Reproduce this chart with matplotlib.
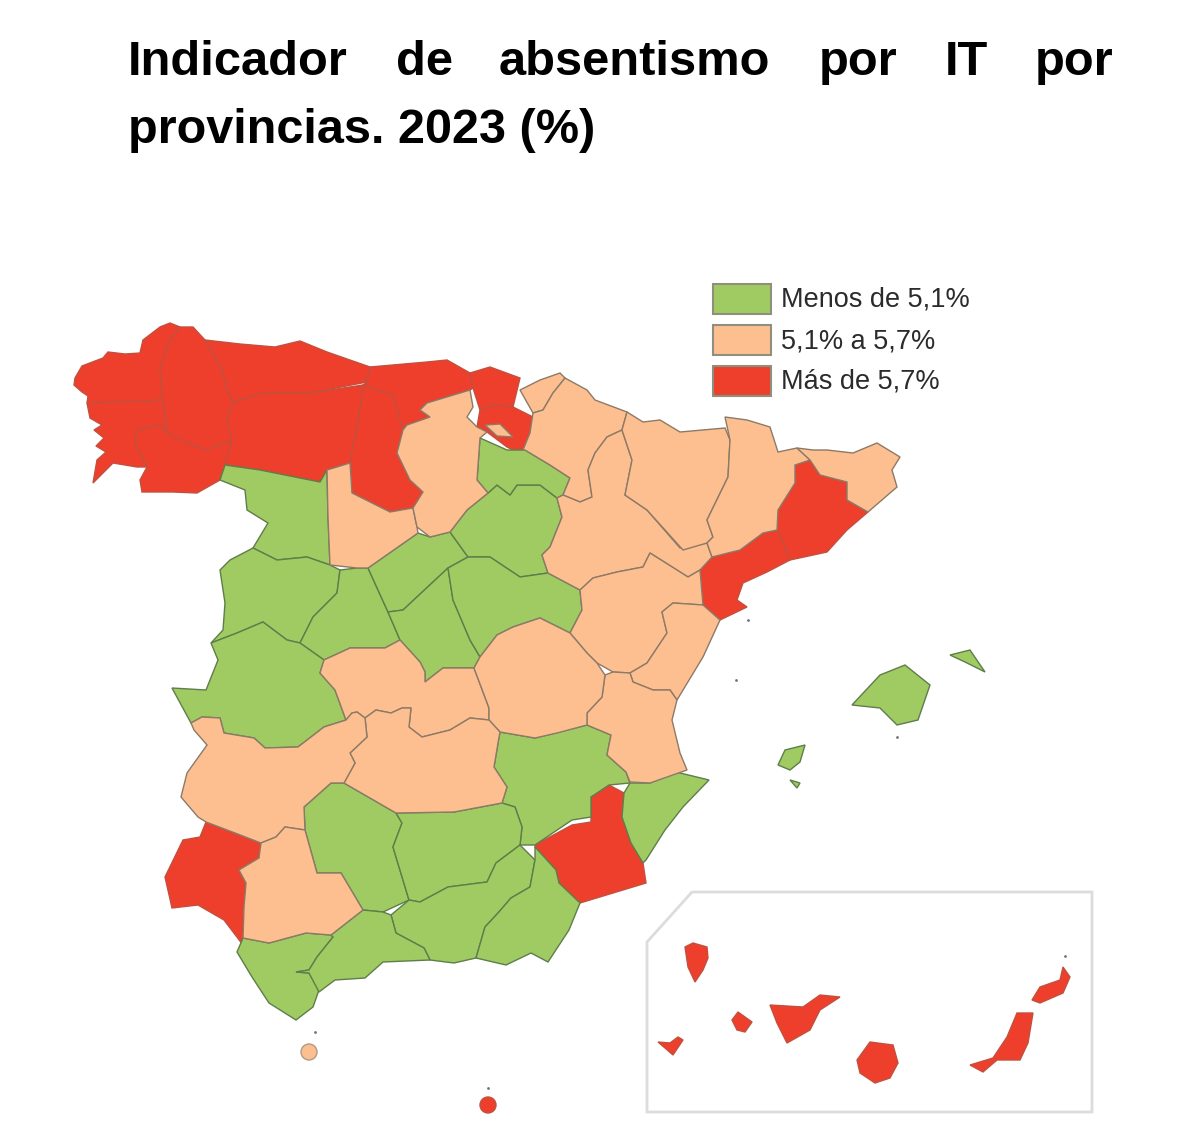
import matplotlib
matplotlib.use("Agg")
import matplotlib.pyplot as plt
from matplotlib.patches import Polygon, Circle, Rectangle

plt.rcParams["font.family"] = ["Liberation Sans", "DejaVu Sans"]

GREEN = "#9fcb62"
ORANGE = "#fdbf8f"
RED = "#ee3f2c"
EDGES = {GREEN: "#5f7d4a", ORANGE: "#8c7a68", RED: "#c2503e"}

legend_labels = ["Menos de 5,1%", "5,1% a 5,7%", "Más de 5,7%"]
legend_colors = [GREEN, ORANGE, RED]

# province outlines
a_coruna = [(75,378),(82,366),(103,358),(108,352),(125,354),(140,353),(143,340),(160,327),(170,323),(180,327),(170,340),(160,370),(163,400),(125,402),(87,403),(88,396),(82,392),(74,385)]
lugo = [(180,327),(193,327),(205,340),(213,353),(222,370),(227,390),(233,402),(227,420),(232,440),(207,450),(187,443),(167,433),(163,400),(160,370),(170,340)]
pontevedra = [(87,403),(125,402),(163,400),(167,433),(160,425),(137,430),(135,443),(147,467),(137,467),(113,463),(93,483),(97,460),(106,452),(96,446),(104,438),(94,430),(102,425),(90,418)]
ourense = [(137,430),(160,425),(167,433),(187,443),(207,450),(232,440),(225,465),(220,480),(197,493),(173,492),(142,492),(140,480),(147,467),(135,443)]
asturias = [(205,340),(240,344),(275,347),(300,341),(327,352),(370,367),(367,382),(310,393),(263,393),(233,402),(227,390),(222,370),(213,353)]
leon = [(233,402),(263,393),(310,393),(363,385),(360,410),(350,463),(327,470),(320,482),(260,470),(225,465),(232,440),(227,420)]
palencia = [(363,385),(393,395),(403,430),(397,453),(410,480),(423,492),(413,508),(390,512),(352,493),(350,463),(360,410)]
cantabria = [(370,367),(427,362),(447,360),(470,373),(473,388),(470,390),(427,403),(420,410),(430,417),(407,425),(403,430),(393,395),(363,385),(367,382)]
bizkaia = [(470,373),(490,367),(520,378),(513,407),(493,405),(480,410),(473,388)]
alava = [(480,410),(493,405),(513,407),(533,417),(530,433),(523,450),(513,450),(507,447),(487,432),(477,427)]
trevino = [(485,425),(500,424),(513,437),(497,436)]
gipuzkoa = [(520,390),(540,380),(560,373),(565,378),(553,393),(543,410),(533,413)]
navarra = [(565,378),(587,390),(595,400),(627,412),(622,430),(607,437),(595,453),(588,470),(592,497),(580,502),(563,495),(570,478),(550,465),(525,450),(523,450),(530,433),(533,413),(543,410),(553,393)]
rioja = [(480,438),(507,450),(525,450),(550,465),(570,478),(563,495),(557,498),(540,485),(517,485),(510,495),(497,485),(488,493),(477,480)]
burgos = [(427,403),(470,390),(473,407),(467,417),(477,427),(487,432),(480,438),(477,480),(488,493),(467,510),(450,532),(430,537),(417,527),(413,508),(423,492),(410,480),(397,453),(403,430),(407,425),(430,417),(420,410)]
soria = [(488,493),(497,485),(510,495),(517,485),(540,485),(557,498),(562,517),(550,547),(542,555),(548,573),(520,577),(490,557),(468,557),(450,532),(467,510)]
segovia = [(368,568),(418,533),(430,537),(450,532),(468,557),(448,568),(403,610),(388,612),(378,590)]
zamora = [(220,480),(225,465),(260,470),(320,482),(327,470),(328,517),(330,565),(307,557),(277,560),(253,548),(268,523),(247,510),(245,490)]
valladolid = [(327,470),(350,463),(352,493),(390,512),(413,508),(417,527),(418,533),(368,568),(357,568),(330,565),(328,517)]
salamanca = [(253,548),(277,560),(307,557),(330,565),(340,570),(337,593),(313,617),(300,643),(287,640),(263,622),(237,633),(211,643),(223,630),(225,603),(220,570),(230,560)]
avila = [(340,570),(357,568),(368,568),(378,590),(388,612),(400,640),(385,648),(350,648),(324,660),(300,643),(313,617),(337,593)]
madrid = [(403,610),(448,568),(453,600),(470,640),(480,657),(474,668),(443,668),(425,682),(425,672),(420,662),(400,640),(388,612)]
guadalajara = [(448,568),(468,557),(490,557),(520,577),(548,573),(580,590),(582,610),(570,633),(540,618),(513,627),(497,635),(480,657),(470,640),(453,600)]
zaragoza = [(607,437),(622,430),(632,460),(625,495),(647,510),(680,548),(707,543),(712,557),(700,570),(688,577),(650,553),(643,567),(617,572),(593,578),(580,590),(548,573),(542,555),(550,547),(562,517),(557,498),(563,495),(580,502),(592,497),(588,470),(595,453)]
huesca = [(627,412),(643,422),(660,420),(680,432),(725,428),(730,440),(728,477),(707,520),(713,537),(707,543),(683,550),(647,510),(625,495),(632,460),(622,430)]
lleida = [(725,417),(747,420),(770,427),(778,452),(797,448),(810,460),(795,465),(795,483),(778,510),(777,530),(763,533),(740,550),(712,557),(707,543),(713,537),(707,520),(728,477),(730,440)]
girona = [(797,448),(813,450),(827,450),(853,453),(877,443),(900,457),(892,470),(897,487),(868,512),(847,500),(847,482),(820,475),(810,460)]
barcelona = [(795,465),(810,460),(820,475),(847,482),(847,500),(868,512),(847,530),(827,552),(790,560),(782,540),(777,530),(778,510),(795,483)]
tarragona = [(712,557),(740,550),(763,533),(777,530),(782,540),(790,560),(767,572),(743,583),(737,600),(747,607),(720,620),(703,607),(700,570)]
castellon = [(662,612),(673,603),(703,605),(720,620),(703,657),(677,700),(670,690),(653,690),(633,682),(630,673),(647,663),(667,633)]
teruel = [(580,590),(593,578),(617,572),(643,567),(650,553),(688,577),(700,570),(703,605),(673,603),(662,612),(667,633),(647,663),(630,673),(613,672),(597,663),(587,653),(570,633),(582,610)]
valencia = [(605,675),(613,672),(630,673),(633,682),(653,690),(670,690),(677,700),(672,720),(680,753),(687,770),(650,783),(630,782),(626,772),(607,755),(611,735),(587,725),(587,713),(602,697)]
caceres = [(172,688),(206,690),(218,660),(211,643),(237,633),(263,622),(287,640),(300,643),(324,660),(320,673),(335,690),(346,720),(324,727),(298,747),(265,748),(254,738),(224,733),(220,718),(202,717),(191,723)]
toledo = [(324,660),(350,648),(385,648),(400,640),(420,662),(425,672),(425,682),(443,668),(474,668),(489,708),(489,720),(470,718),(450,730),(422,737),(409,727),(411,708),(402,708),(391,713),(376,710),(365,718),(357,712),(352,713),(346,720),(335,690),(320,673)]
cuenca = [(474,668),(480,657),(497,635),(513,627),(540,618),(570,633),(587,653),(597,663),(605,675),(602,697),(587,713),(587,725),(557,733),(535,738),(500,732),(489,720),(489,708)]
albacete = [(500,732),(535,738),(587,725),(611,735),(607,755),(626,772),(630,783),(609,785),(591,797),(591,817),(572,820),(535,845),(520,845),(522,827),(515,807),(502,803),(507,787),(494,767),(498,743)]
ciudad_real = [(365,718),(376,710),(391,713),(402,708),(411,708),(409,727),(422,737),(450,730),(470,718),(489,720),(500,732),(498,743),(494,767),(507,787),(502,803),(454,812),(396,813),(344,783),(355,763),(350,753),(367,737)]
badajoz = [(191,723),(202,717),(220,718),(224,733),(254,738),(265,748),(298,747),(324,727),(346,720),(352,713),(357,712),(365,718),(367,737),(350,753),(355,763),(344,783),(331,783),(304,807),(305,830),(285,827),(276,837),(261,843),(235,833),(206,822),(198,817),(181,797),(187,773),(207,745),(194,730)]
huelva = [(206,822),(235,833),(261,843),(261,850),(259,858),(239,870),(246,883),(244,907),(243,945),(224,920),(198,905),(172,908),(165,877),(183,840),(200,837)]
sevilla = [(261,843),(276,837),(285,827),(305,830),(317,873),(341,873),(363,910),(331,935),(306,933),(269,943),(243,938),(244,907),(246,883),(239,870),(259,858)]
cordoba = [(344,783),(396,813),(402,823),(393,847),(409,900),(383,912),(363,910),(341,873),(317,873),(305,830),(304,807),(331,783)]
jaen = [(396,813),(454,812),(502,803),(515,807),(522,827),(520,845),(496,863),(487,882),(448,887),(420,902),(409,900),(393,847),(402,823)]
granada = [(420,902),(448,887),(487,882),(496,863),(520,845),(535,860),(530,887),(511,898),(498,913),(485,927),(476,958),(454,963),(430,960),(424,948),(396,933),(391,915),(409,900)]
almeria = [(535,860),(535,847),(556,870),(559,883),(580,903),(569,930),(548,962),(531,953),(506,965),(476,958),(485,927),(498,913),(511,898),(530,887)]
murcia = [(609,785),(624,793),(622,817),(631,843),(643,863),(646,883),(580,903),(559,883),(556,870),(535,847),(535,845),(572,825),(591,822),(591,797)]
alicante = [(630,783),(650,783),(676,772),(709,780),(683,807),(665,830),(646,860),(643,863),(631,843),(622,817),(624,793)]
cadiz = [(243,938),(269,943),(306,933),(331,935),(333,937),(317,957),(309,970),(296,972),(309,973),(319,990),(313,1007),(296,1020),(269,1003),(252,977),(237,952)]
malaga = [(363,910),(383,912),(391,915),(396,933),(424,948),(430,960),(383,962),(365,978),(335,980),(319,992),(309,973),(296,972),(309,970),(317,957),(333,937),(331,935)]
mallorca = [(852,705),(880,675),(905,665),(930,685),(918,720),(897,725),(880,708)]
menorca = [(950,655),(970,650),(985,672),(965,662)]
ibiza = [(778,765),(785,750),(805,745),(800,762),(790,770)]
formentera = [(790,780),(800,783),(797,788)]
la_palma = [(685,947),(693,943),(707,947),(708,958),(703,970),(695,982),(688,967)]
el_hierro = [(658,1042),(670,1043),(678,1037),(683,1040),(673,1055),(665,1048)]
la_gomera = [(732,1020),(738,1012),(752,1022),(745,1032),(737,1030)]
tenerife = [(770,1005),(803,1007),(820,995),(840,997),(820,1010),(810,1030),(787,1043),(777,1023)]
gran_canaria = [(870,1042),(893,1045),(898,1063),(890,1078),(875,1083),(860,1073),(857,1060)]
fuerteventura = [(1017,1013),(1033,1013),(1028,1043),(1020,1060),(997,1060),(983,1072),(970,1065),(993,1058),(1007,1037)]
lanzarote = [(1032,1000),(1040,987),(1060,980),(1063,967),(1070,977),(1063,993),(1040,1003)]
canary_frame = [(692,892),(1092,892),(1092,1112),(647,1112),(647,942)]

# tiny islets shown as specks
islet_x = [315, 488, 1065, 736, 897, 748]
islet_y = [1032, 1088, 956, 680, 737, 620]

low_group = [zamora, salamanca, avila, segovia, soria, rioja, madrid, guadalajara, caceres, albacete,
             cordoba, jaen, granada, almeria, alicante, cadiz, malaga, mallorca, menorca, ibiza, formentera]
mid_group = [valladolid, burgos, gipuzkoa, navarra, zaragoza, huesca, lleida, girona, teruel, castellon,
             valencia, toledo, cuenca, ciudad_real, badajoz, sevilla, trevino]
high_group = [a_coruna, lugo, pontevedra, ourense, asturias, leon, palencia, cantabria, bizkaia, alava,
              barcelona, tarragona, huelva, murcia, la_palma, el_hierro, la_gomera, tenerife,
              gran_canaria, fuerteventura, lanzarote]

fig = plt.figure(figsize=(12, 11.45), dpi=100)
ax = fig.add_axes([0, 0, 1, 1])
ax.set_xlim(0, 1200)
ax.set_ylim(1145, 0)
ax.axis("off")

for group, color in zip([high_group, low_group, mid_group], [RED, GREEN, ORANGE]):
    for outline in group:
        ax.add_patch(Polygon(outline, closed=True, facecolor=color, edgecolor=EDGES[color], linewidth=1.0))

ax.add_patch(Circle((309, 1052), 8, facecolor=ORANGE, edgecolor="#b09a85", linewidth=1.0))
ax.add_patch(Circle((488, 1105), 8, facecolor=RED, edgecolor=EDGES[RED], linewidth=1.0))
ax.scatter(islet_x, islet_y, s=4, color="#6b7280", linewidths=0)
ax.add_patch(Polygon(canary_frame, closed=True, fill=False, edgecolor="#dcdcdc", linewidth=2.0))

for i, (label, color) in enumerate(zip(legend_labels, legend_colors)):
    top = 284 + i * 41
    ax.add_patch(Rectangle((713, top), 58, 30, facecolor=color, edgecolor="#8f8f80", linewidth=1.5))
    ax.text(781, top + 16, label, fontsize=19.5, color="#2b2b2b", va="center", ha="left")

# first title line is justified, so each word has its own position
title_words = ["Indicador", "de", "absentismo", "por", "IT", "por"]
title_x = [128, 396, 499, 819, 945, 1035]
for word, x in zip(title_words, title_x):
    ax.text(x, 75, word, fontsize=35.2, fontweight="bold", color="black", va="baseline", ha="left")
ax.text(128, 143, "provincias. 2023 (%)", fontsize=35, fontweight="bold", color="black", va="baseline", ha="left")

fig.savefig("out.png", dpi=100)
plt.close(fig)
